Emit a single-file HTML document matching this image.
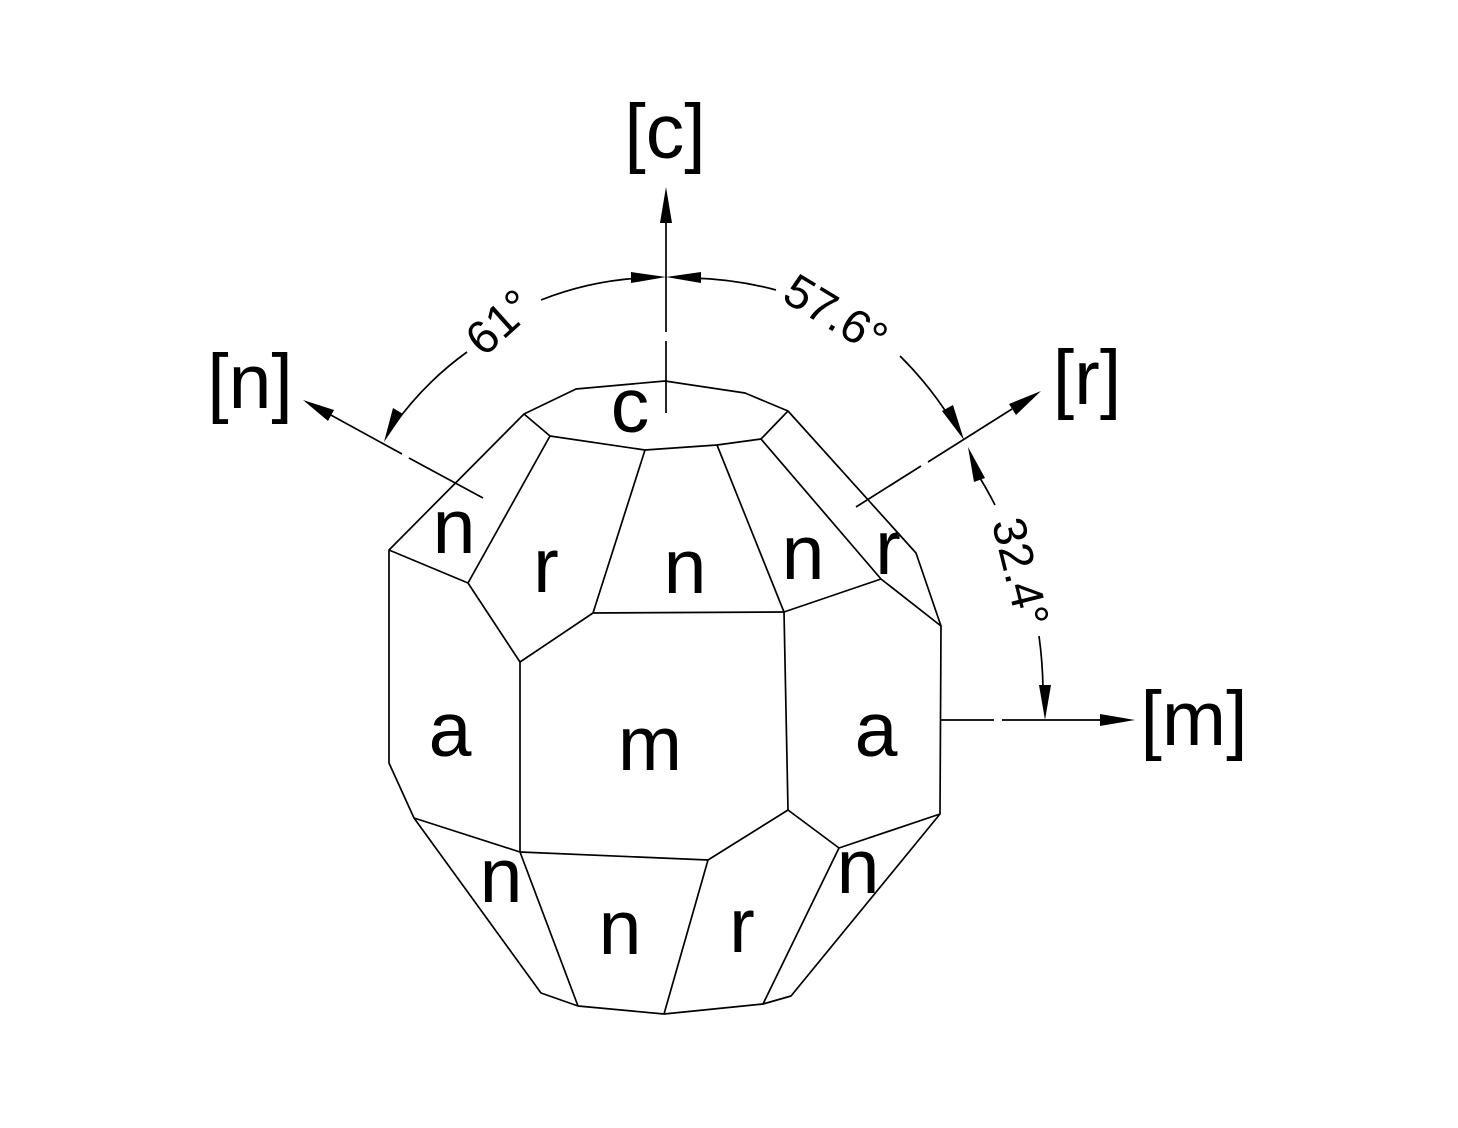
<!DOCTYPE html>
<html><head><meta charset="utf-8"><style>html,body{margin:0;padding:0;background:#fff}svg{display:block}</style></head>
<body>
<svg width="1458" height="1128" viewBox="0 0 1458 1128" xmlns="http://www.w3.org/2000/svg">
<rect width="1458" height="1128" fill="#fff"/>
<g fill="none" stroke="#000" stroke-width="1.7" stroke-linejoin="round">
<polygon points="389,550 524,414 576,389 665,381 745,393 788,411 916,553 941,626 940,814 791,996 763,1004 664,1014 578,1006 541,993 414,818 389,763"/>
<polyline points="524,414 550,436 645,450 717,445 761,439 788,411"/>
<line x1="550" y1="436" x2="468" y2="583"/>
<line x1="389" y1="550" x2="468" y2="583"/>
<line x1="468" y1="583" x2="520" y2="662"/>
<line x1="520" y1="662" x2="593" y2="613"/>
<line x1="593" y1="613" x2="645" y2="450"/>
<line x1="593" y1="613" x2="784" y2="612"/>
<line x1="784" y1="612" x2="717" y2="445"/>
<line x1="761" y1="439" x2="881" y2="579"/>
<line x1="784" y1="612" x2="881" y2="579"/>
<line x1="881" y1="579" x2="941" y2="626"/>
<line x1="784" y1="612" x2="788" y2="810"/>
<line x1="520" y1="662" x2="520" y2="852"/>
<line x1="414" y1="818" x2="520" y2="852"/>
<line x1="520" y1="852" x2="708" y2="860"/>
<line x1="708" y1="860" x2="788" y2="810"/>
<line x1="788" y1="810" x2="839" y2="848"/>
<line x1="839" y1="848" x2="940" y2="814"/>
<line x1="520" y1="852" x2="578" y2="1006"/>
<line x1="708" y1="860" x2="664" y2="1014"/>
<line x1="839" y1="848" x2="763" y2="1004"/>
<line x1="666" y1="215" x2="666" y2="332"/>
<line x1="666" y1="341" x2="666" y2="413"/>
<line x1="318" y1="408" x2="402" y2="454"/>
<line x1="409" y1="458" x2="483" y2="498"/>
<line x1="856" y1="507" x2="921" y2="466"/>
<line x1="928" y1="462" x2="1012" y2="409"/>
<line x1="941" y1="720" x2="994" y2="720"/>
<line x1="1002" y1="720" x2="1108" y2="720"/>
<path d="M 392 428 A 322 322 0 0 1 467 352"/>
<path d="M 541 300 A 322 322 0 0 1 640 278"/>
<path d="M 692 278 A 356 356 0 0 1 776 290"/>
<path d="M 900 356 A 356 356 0 0 1 950 418"/>
<path d="M 975 470 A 420 420 0 0 1 995 505"/>
<path d="M 1039 636 A 420 420 0 0 1 1043 690"/>
</g>
<g fill="#000">
<polygon points="666,187 660,223 672,223"/>
<polygon points="303,400 334,410 328,421"/>
<polygon points="1041,391 1016,415 1009,404"/>
<polygon points="1135,720 1100,714 1100,726"/>
<polygon points="666,277 631,272 631,283"/>
<polygon points="666,277 701,272 701,283"/>
<polygon points="384,442 393,408 403,414"/>
<polygon points="964,440 942,411 953,405"/>
<polygon points="968,447 985,478 974,482"/>
<polygon points="1045,720 1039,685 1051,685"/>
</g>
<g font-family="Liberation Sans, Arial, sans-serif" fill="#000">
<g font-size="47" text-anchor="middle" dominant-baseline="central">
<text transform="translate(499,322) rotate(-42)">61°</text>
<text transform="translate(836,314) rotate(31)">57.6°</text>
<text transform="translate(1021,572) rotate(76)">32.4°</text>
</g>
<g font-size="77" text-anchor="middle">
<text x="665" y="158">[c]</text>
<text x="250" y="408">[n]</text>
<text x="1087" y="404">[r]</text>
<text x="1194" y="745">[m]</text>
<text x="630" y="432">c</text>
<text x="454" y="553">n</text>
<text x="546" y="592">r</text>
<text x="685" y="593">n</text>
<text x="803" y="579">n</text>
<text x="888" y="574">r</text>
<text x="450" y="756">a</text>
<text x="650" y="770">m</text>
<text x="876" y="756">a</text>
<text x="501" y="902">n</text>
<text x="620" y="954">n</text>
<text x="742" y="952">r</text>
<text x="858" y="893">n</text>
</g>
</g>
</svg>
</body></html>
